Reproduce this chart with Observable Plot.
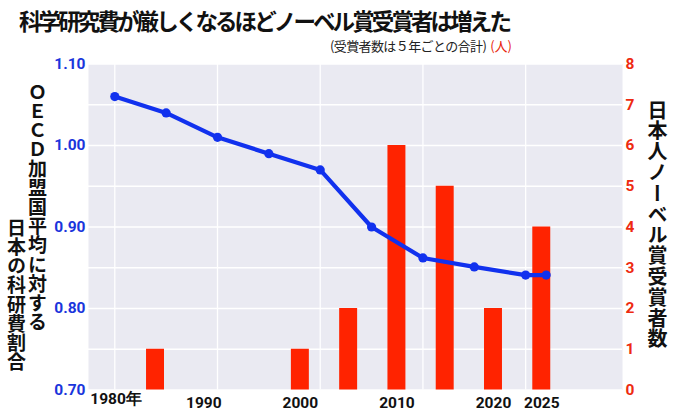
<!DOCTYPE html>
<html>
<head>
<meta charset="utf-8">
<script src="https://cdn.jsdelivr.net/npm/d3@7"></script>
<script src="https://cdn.jsdelivr.net/npm/@observablehq/plot@0.6"></script>
<style>
  body { margin: 0; background: white; }
  #wrap { position: relative; width: 680px; height: 414px; overflow: hidden; background: white; }
  #wrap svg { position: absolute; left: 0; top: 0; }
  .jp { font-family: "Noto Sans CJK JP", "Noto Sans", sans-serif; font-weight: 700; color: #111; position: absolute; line-height: 1; white-space: nowrap; }
  .vert { writing-mode: vertical-rl; }
</style>
</head>
<body>
<div id="wrap">
  <div class="jp" id="title" style="left:19px; top:9px; font-size:22.5px; letter-spacing:-2.9px;">科学研究費が厳しくなるほどノーベル賞受賞者は増えた</div>
  <div class="jp" id="sub" style="right:168px; top:39px; font-size:13px; font-weight:400; color:#222; letter-spacing:-0.6px;">(受賞者数は５年ごとの合計)<span style="color:#e8250c; margin-left:4px; letter-spacing:0;">(人)</span></div>
  <div class="jp vert" id="ltitle1" style="left:28px; top:82px; font-size:19px; letter-spacing:0.2px;">ＯＥＣＤ加盟国平均に対する</div>
  <div class="jp vert" id="ltitle2" style="left:7px; top:218px; font-size:19px; letter-spacing:0.2px;">日本の科研費割合</div>
  <div class="jp vert" id="rtitle" style="left:647px; top:100px; font-size:20px; letter-spacing:0.8px;">日本人ノーベル賞受賞者数</div>
</div>
<script>
// ---- data ----
const lineYears = [1980, 1985, 1990, 1995, 2000, 2005, 2010, 2015, 2020, 2022];
const lineRatio = [1.06, 1.04, 1.01, 0.99, 0.97, 0.90, 0.862, 0.851, 0.841, 0.841];
const barYears = [1985, 2000, 2005, 2010, 2015, 2020, 2025];
const barCounts = [1, 1, 2, 6, 5, 2, 4];
const xTickYears = [1980, 1990, 2000, 2010, 2020, 2025];
const gridYears = [1980, 1990, 2000, 2010, 2020];
const leftTicks = [0.70, 0.80, 0.90, 1.00, 1.10];
const leftGrid = [0.70, 0.75, 0.80, 0.85, 0.90, 0.95, 1.00, 1.05, 1.10];
const rightTicks = [0, 1, 2, 3, 4, 5, 6, 7, 8];

const lineData = lineYears.map((y, i) => ({year: y, ratio: lineRatio[i]}));
const barData = barYears.map((y, i) => ({year: y, count: barCounts[i]}));

const W = 680, H = 414;
const M = {top: 63.5, right: 58, bottom: 24.5, left: 88};
const lineXDomain = [1977.44, 2029.43];
const barXDomain = [1978.06, 2033.36];
const BLUE = "#1131ee", BLUE_T = "#1a35dc", RED = "#ff2300", RED_T = "#ee2a10";
const tickFont = {fontFamily: "Roboto, 'Liberation Sans', sans-serif", fontSize: 15.5, fontWeight: "bold"};

const base = {width: W, height: H, marginTop: M.top, marginRight: M.right, marginBottom: M.bottom, marginLeft: M.left};

// Layer A: background + grid (line scale)
const layerA = Plot.plot({
  ...base,
  style: {background: "transparent"},
  x: {domain: lineXDomain, axis: null},
  y: {domain: [0.7, 1.1], axis: null},
  marks: [
    Plot.frame({fill: "#eaeaf2", stroke: "none"}),
    Plot.ruleX(gridYears, {x: d => d, stroke: "white", strokeWidth: 1.3}),
    Plot.ruleY(leftGrid, {y: d => d, stroke: "white", strokeWidth: 1.3})
  ]
});

// Layer B: bars + right axis + bottom labels (bar scale)
const layerB = Plot.plot({
  ...base,
  style: {background: "transparent", overflow: "visible"},
  x: {domain: barXDomain, axis: null},
  y: {domain: [0, 8], axis: null},
  marks: [
    Plot.rectY(barData, {x1: d => d.year - 0.93, x2: d => d.year + 0.93, y1: 0, y2: "count", fill: RED}),
    Plot.axisY({anchor: "right", ticks: rightTicks, tickSize: 0, tickPadding: 3, tickFormat: d => String(d), color: RED_T, label: null, ...tickFont}),
    Plot.axisX({anchor: "bottom", ticks: xTickYears.slice(1), tickSize: 0, tickPadding: 7, tickFormat: d => String(d), color: "#111", label: null, ...tickFont}),
    Plot.text(xTickYears.slice(0, 1), {x: d => d, text: d => d + "年", frameAnchor: "bottom", dy: 13.5, textAnchor: "start", dx: -17, fill: "#111", ...tickFont})
  ]
});

// Layer C: line + left axis (line scale)
const layerC = Plot.plot({
  ...base,
  style: {background: "transparent", overflow: "visible"},
  x: {domain: lineXDomain, axis: null},
  y: {domain: [0.7, 1.1], axis: null},
  marks: [
    Plot.axisY({anchor: "left", ticks: leftTicks, tickSize: 0, tickPadding: 3, tickFormat: d3.format(".2f"), color: BLUE_T, label: null, ...tickFont}),
    Plot.line(lineData, {x: "year", y: "ratio", stroke: BLUE, strokeWidth: 4.2, curve: "linear"}),
    Plot.dot(lineData, {x: "year", y: "ratio", r: 4.6, fill: BLUE, stroke: "none"})
  ]
});

const wrap = document.getElementById("wrap");
wrap.insertBefore(layerC, wrap.firstChild);
wrap.insertBefore(layerB, wrap.firstChild);
wrap.insertBefore(layerA, wrap.firstChild);
</script>
</body>
</html>
